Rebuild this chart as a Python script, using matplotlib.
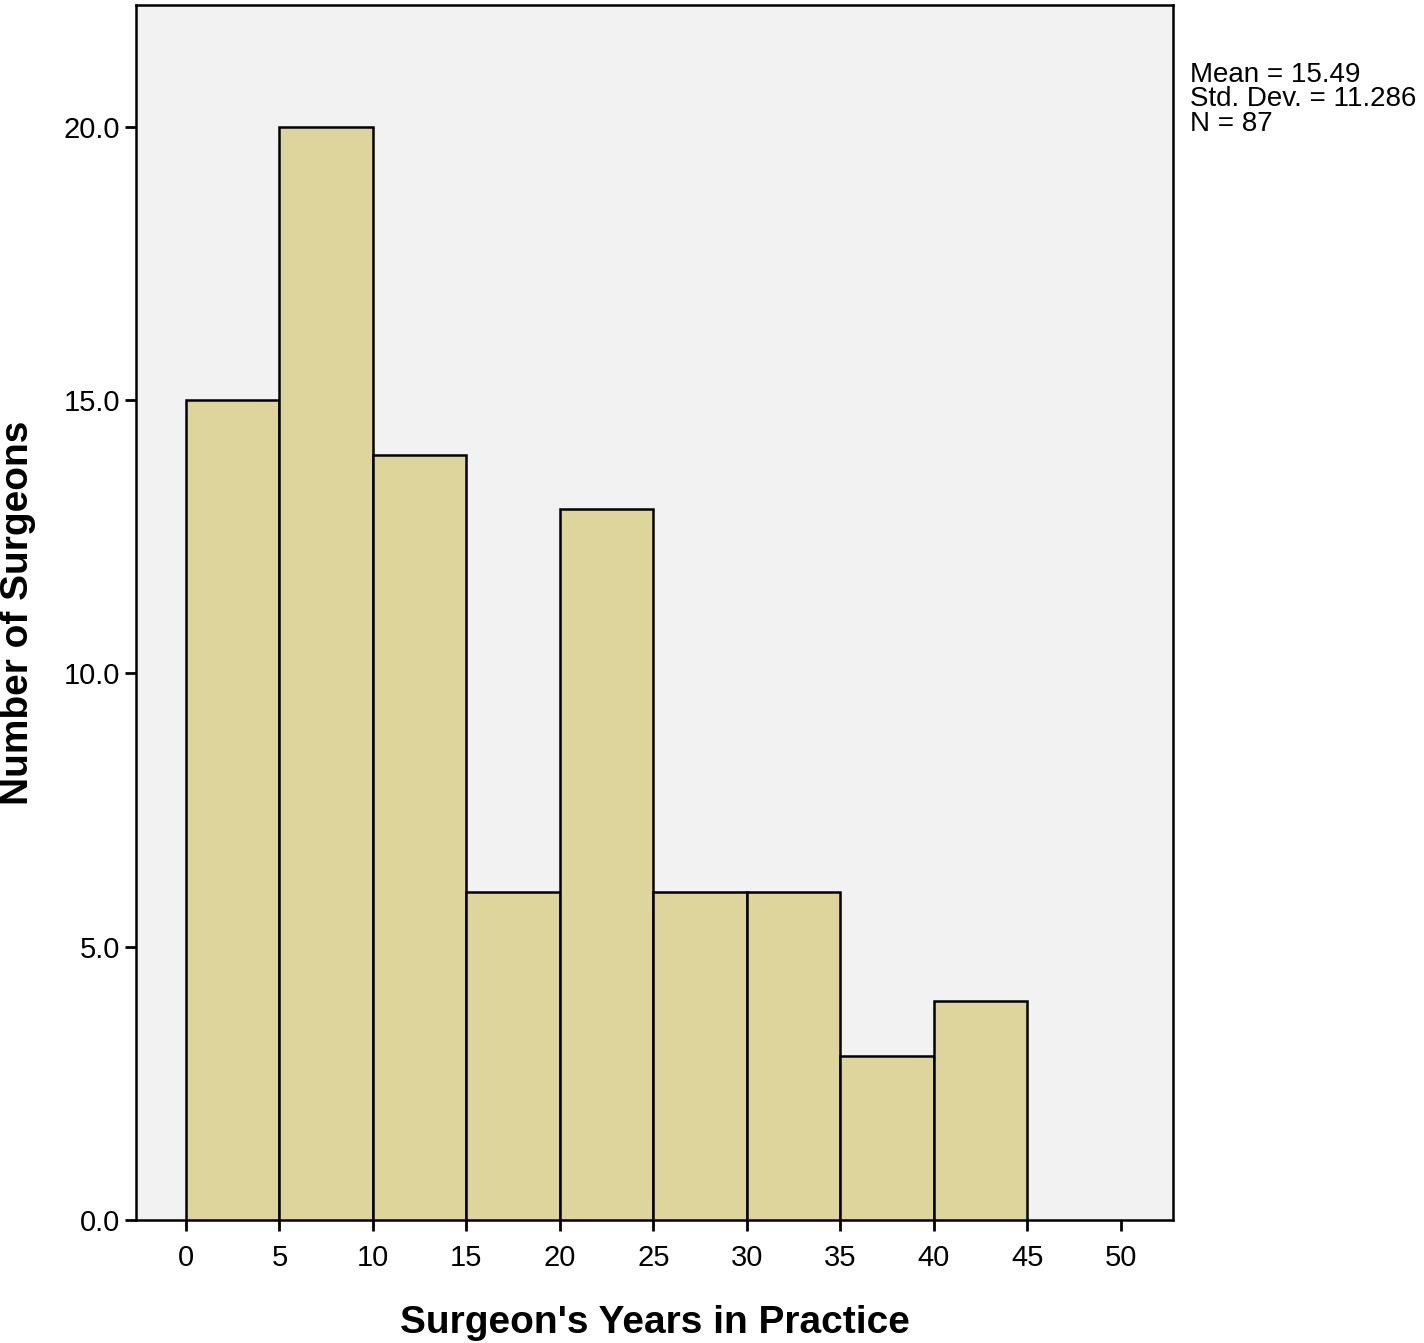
import matplotlib
matplotlib.use("Agg")
import matplotlib.pyplot as plt

bin_edges = [0, 5, 10, 15, 20, 25, 30, 35, 40, 45]
counts = [15, 20, 14, 6, 13, 6, 6, 3, 4]
x_ticks = [0, 5, 10, 15, 20, 25, 30, 35, 40, 45, 50]
y_ticks = [0.0, 5.0, 10.0, 15.0, 20.0]
stats_lines = ["Mean = 15.49", "Std. Dev. = 11.286", "N = 87"]

plt.rcParams['font.family'] = ['Liberation Sans', 'DejaVu Sans']

fig = plt.figure(figsize=(14.24, 13.43), dpi=100)
ax = fig.add_axes([0.0955, 0.0916, 0.7282, 0.9047])
ax.set_facecolor('#F2F2F2')

widths = [bin_edges[i+1] - bin_edges[i] for i in range(len(counts))]
ax.bar(bin_edges[:-1], counts, width=widths, align='edge',
       color='#DDD59B', edgecolor='black', linewidth=1.8, zorder=3)

ax.set_xlim(-2.67, 52.78)
ax.set_ylim(0, 22.23)
ax.set_xticks(x_ticks)
ax.set_xticklabels([str(v) for v in x_ticks])
ax.set_yticks(y_ticks)
ax.set_yticklabels([f"{v:.1f}" for v in y_ticks])
ax.tick_params(axis='both', labelsize=21, width=2, length=8, color='black')
ax.tick_params(axis='x', pad=9)
for s in ax.spines.values():
    s.set_linewidth(1.8)

ax.set_xlabel("Surgeon's Years in Practice", fontsize=28, fontweight='bold', labelpad=24)
ax.set_ylabel("Number of Surgeons", fontsize=28, fontweight='bold', labelpad=20)

fig.text(0.836, 0.954, "\n".join(stats_lines), fontsize=20, va='top', ha='left',
         linespacing=0.92)

fig.savefig("out.png", dpi=100, facecolor='white')
